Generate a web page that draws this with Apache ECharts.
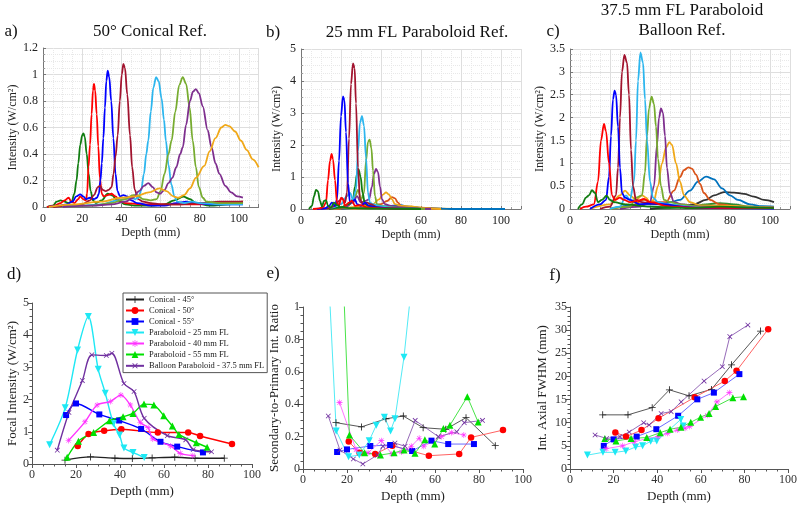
<!DOCTYPE html>
<html><head><meta charset="utf-8">
<script src="https://cdn.jsdelivr.net/npm/echarts@6/dist/echarts.min.js"></script>
<style>html,body{margin:0;padding:0;background:#fff}#c{width:800px;height:507px}</style>
</head><body><div id="c"></div>
<script>
// ---------- Panel a: 50 deg conical reflector, intensity vs depth ----------
const a_dkgreen = [[2,0],[5,0.01],[7,0.04],[9,0.05],[11,0.04],[13,0.03],[14.6,0.04],[16,0.1],[17.1,0.2],[18,0.33],[19,0.47],[20,0.54],[20.6,0.556],[21.3,0.53],[22.3,0.4],[23.3,0.25],[24.3,0.12],[25.5,0.05],[27,0.03],[30,0.05],[33,0.1],[35,0.09],[38,0.05],[42,0.02],[48,0.01],[55,0.01],[62,0.02],[67,0.05],[71.6,0.078],[75,0.06],[78,0.03],[85,0.01],[95,0.02],[102,0.04]];
const a_red = [[2,0],[6,0.01],[9,0.03],[11,0.05],[13,0.07],[14.5,0.04],[16,0.03],[18,0.06],[19,0.08],[20.5,0.06],[21.9,0.05],[22.5,0.1],[23.2,0.3],[24,0.47],[24.8,0.7],[25.5,0.88],[26,0.93],[26.6,0.88],[27.4,0.7],[28.2,0.46],[29,0.22],[30,0.1],[31,0.08],[33,0.09],[35,0.1],[37,0.08],[39,0.05],[42,0.03],[50,0.02],[60,0.02],[70,0.02],[80,0.02],[90,0.03],[102,0.04]];
const a_blue = [[3,0],[8,0.01],[12,0.02],[15,0.04],[17,0.08],[19,0.095],[20.5,0.08],[22,0.06],[24,0.07],[26,0.06],[27.5,0.07],[28.5,0.1],[29.3,0.2],[30,0.33],[30.8,0.52],[31.6,0.75],[32.3,0.95],[33,1.03],[33.8,0.98],[34.8,0.8],[35.9,0.52],[37,0.25],[38,0.12],[39.3,0.08],[41,0.09],[43,0.08],[45,0.05],[48,0.03],[55,0.01],[62,0.01],[68,0.03],[73.3,0.04],[78,0.03],[85,0.02],[102,0.02]];
const a_dkred = [[5,0],[15,0.01],[20,0.02],[24,0.05],[26,0.09],[28,0.15],[29.1,0.16],[30.5,0.13],[32,0.12],[33.5,0.13],[35,0.15],[36,0.25],[37,0.38],[38.1,0.54],[39.2,0.8],[40.2,1.0],[41,1.08],[41.8,1.05],[43,0.85],[44.4,0.54],[45.5,0.3],[46.8,0.13],[48.6,0.06],[51,0.04],[55,0.03],[60,0.02],[70,0.02],[80,0.03],[90,0.04],[102,0.04]];
const a_ltblue = [[10,0],[20,0.01],[30,0.02],[38,0.05],[42,0.06],[45,0.07],[47,0.06],[48.6,0.07],[50,0.12],[51.5,0.25],[52.7,0.4],[53.7,0.5],[55,0.72],[56.3,0.9],[57.7,0.98],[59,0.95],[60.5,0.82],[61.7,0.66],[62.7,0.5],[64,0.32],[65.5,0.17],[67,0.08],[68.5,0.04],[72,0.03],[76,0.04],[80,0.03],[90,0.02],[102,0.02]];
const a_ygreen = [[10,0],[25,0.01],[35,0.03],[42,0.06],[46,0.09],[48,0.09],[51,0.06],[55,0.05],[58,0.06],[60,0.12],[62,0.25],[64,0.4],[65.6,0.5],[67.5,0.72],[69.5,0.92],[71.3,0.98],[73,0.93],[74.8,0.75],[76.4,0.5],[78,0.3],[79.5,0.15],[81.5,0.07],[83.5,0.04],[90,0.03],[102,0.03]];
const a_purple = [[10,0],[25,0.01],[35,0.02],[42,0.04],[46,0.07],[49,0.12],[51.5,0.16],[53.7,0.18],[56,0.15],[58,0.11],[59.7,0.1],[62,0.13],[64,0.18],[66,0.22],[68,0.3],[70,0.4],[71.3,0.45],[73,0.62],[75,0.8],[76.5,0.87],[78,0.89],[79.5,0.86],[81.5,0.76],[84,0.58],[86,0.45],[88,0.33],[90,0.25],[93,0.16],[96,0.11],[99,0.08],[102,0.07]];
const a_orange = [[3,0],[15,0.02],[30,0.04],[40,0.07],[47,0.08],[54,0.11],[59.4,0.14],[63,0.12],[66.5,0.08],[69,0.07],[72,0.09],[75,0.14],[78,0.22],[82.3,0.31],[85,0.42],[88,0.52],[91,0.6],[93,0.62],[95,0.61],[98,0.57],[101,0.5],[104,0.43],[107,0.36],[110,0.3]];

// ---------- Panel b: 25 mm FL paraboloid ----------
const b_dkgreen = [[4,0],[5.5,0.1],[6.5,0.4],[7.5,0.6],[8.5,0.55],[9.5,0.25],[10.5,0.08],[11.5,0.25],[12.5,0.28],[13.5,0.1],[15,0.05],[16.5,0.2],[18,0.12],[20,0.05],[24,0.03],[30,0.02],[40,0.01],[60,0]];
const b_red = [[6,0],[9,0.02],[11,0.05],[12.5,0.2],[13.5,0.9],[14.5,1.5],[15.3,1.72],[16,1.55],[17,0.9],[18,0.2],[19,0.1],[20,0.35],[21,0.3],[22,0.1],[24,0.2],[25.5,0.25],[27,0.1],[30,0.12],[33,0.05],[40,0.02],[50,0.01],[60,0]];
const b_blue = [[8,0],[12,0.02],[14,0.1],[15.5,0.2],[17,0.1],[18,0.3],[19,1.5],[20,2.9],[21,3.52],[21.7,3.4],[22.5,2.4],[23.5,0.8],[24.5,0.2],[26,0.25],[27,0.3],[28,0.15],[30,0.1],[32,0.2],[34,0.1],[38,0.05],[45,0.02],[60,0]];
const b_dkred = [[10,0],[14,0.03],[17,0.1],[19,0.25],[20.5,0.35],[22,0.2],[23,0.5],[24,2.2],[25,3.9],[26,4.55],[26.8,4.4],[27.5,3.3],[28.5,1.3],[29.5,0.3],[31,0.15],[33,0.2],[35,0.15],[38,0.05],[45,0.02],[60,0]];
const b_ltblue = [[10,0],[16,0.05],[20,0.15],[23,0.4],[24.5,0.5],[26,0.3],[27.5,0.6],[28.5,1.8],[29.5,2.7],[30.5,2.9],[31.5,2.6],[32.5,1.6],[33.5,0.5],[34.5,0.2],[36,0.15],[39,0.1],[44,0.05],[52,0.02],[60,0]];
const b_dkgreen2 = [[14,0],[20,0.05],[24,0.15],[26,0.3],[27,0.7],[28,1.1],[28.8,1.24],[29.8,1.0],[30.8,0.5],[32,0.15],[34,0.1],[38,0.05],[45,0.02],[60,0]];
const b_ygreen = [[14,0],[20,0.05],[25,0.2],[27,0.4],[28.5,0.6],[30,0.3],[31.5,0.5],[32.5,1.5],[33.5,2.1],[34.3,2.17],[35.2,1.9],[36,1.2],[37,0.4],[38,0.15],[40,0.1],[45,0.05],[55,0.02],[62,0]];
const b_purple = [[15,0],[22,0.05],[26,0.2],[28,0.4],[30,0.2],[32,0.25],[34,0.3],[35.5,0.7],[36.5,1.1],[37.5,1.25],[38.5,1.15],[39.5,0.7],[40.5,0.3],[42,0.15],[45,0.1],[50,0.05],[58,0.02],[65,0]];
const b_orange = [[15,0],[25,0.05],[32,0.1],[36,0.15],[39,0.3],[41,0.45],[42.5,0.52],[44,0.45],[45.5,0.3],[47,0.15],[50,0.1],[55,0.08],[60,0.04],[65,0.01],[70,0]];
const b_orangered = [[18,0],[28,0.05],[35,0.1],[40,0.15],[43,0.25],[45.5,0.37],[47,0.33],[48.5,0.2],[50,0.1],[54,0.06],[60,0.03],[70,0]];
const b_steel = [[20,0],[35,0.05],[45,0.1],[50,0.12],[53,0.08],[58,0.04],[65,0.02],[75,0],[102,0]];
const b_gold = [[20,0],[40,0.03],[50,0.06],[55,0.07],[60,0.04],[70,0.01],[85,0],[102,0]];

// ---------- Panel c: 37.5 mm FL paraboloid balloon ----------
const c_dkgreen = [[4,0],[6,0.1],[8,0.25],[9.5,0.3],[11,0.41],[12.5,0.35],[14,0.15],[16,0.2],[18.3,0.29],[20,0.2],[22,0.15],[28,0.1],[40,0.05],[60,0.02],[75,0.05],[90,0.03],[102,0.02]];
const c_red = [[5,0],[8,0.05],[12,0.1],[14,0.6],[15.5,1.5],[17,1.86],[18,1.7],[19.5,1.0],[21,0.3],[22.5,0.2],[25,0.25],[27,0.2],[30,0.15],[34,0.18],[37,0.22],[40,0.15],[50,0.05],[60,0.03],[102,0.02]];
const c_blue = [[10,0],[15,0.1],[18,0.2],[19.5,0.7],[20.5,1.6],[21.5,2.4],[22.3,2.59],[23,2.5],[24,1.8],[25,0.9],[26,0.35],[27.5,0.25],[30,0.2],[35,0.1],[40,0.12],[48,0.1],[55,0.05],[65,0.02],[102,0.01]];
const c_dkred = [[15,0],[20,0.05],[23,0.3],[24,0.9],[25,2.0],[26,3.0],[27.2,3.37],[28.5,3.2],[29.5,2.5],[30.5,1.3],[31.5,0.5],[33,0.2],[36,0.15],[40,0.12],[50,0.08],[60,0.03],[102,0.02]];
const c_ltblue = [[20,0],[25,0.05],[28,0.3],[30,0.2],[32,0.6],[33,1.5],[34,2.8],[35.2,3.42],[36.5,3.2],[37.5,2.4],[38.5,1.5],[40,0.6],[41.5,0.25],[44,0.15],[50,0.1],[60,0.05],[70,0.03],[102,0.02]];
const c_ygreen = [[20,0],[30,0.05],[33,0.25],[36,0.3],[37.5,0.8],[38.5,1.6],[39.5,2.2],[40.8,2.46],[42,2.3],[43,1.8],[44,1.1],[45.5,0.5],[47,0.2],[50,0.15],[55,0.1],[65,0.05],[102,0.03]];
const c_purple = [[25,0],[35,0.05],[40,0.15],[42,0.5],[43.5,1.4],[44.5,2.0],[45.5,2.2],[46.5,2.1],[47.5,1.6],[48.5,0.9],[50,0.35],[52,0.15],[56,0.1],[65,0.05],[102,0.03]];
const c_orange = [[10,0],[20,0.1],[25,0.3],[27.5,0.4],[30,0.3],[33,0.2],[36,0.3],[38,0.25],[40,0.15],[42,0.2],[44,0.5],[46,1.0],[48,1.35],[49.7,1.46],[51,1.4],[53,1.0],[55,0.6],[57,0.3],[60,0.15],[65,0.08],[102,0.03]];
const c_orangered = [[20,0],[30,0.05],[37,0.2],[40,0.15],[48,0.15],[52,0.4],[55,0.7],[57,0.85],[59.2,0.91],[61,0.88],[63,0.75],[65,0.55],[67,0.35],[70,0.2],[75,0.1],[85,0.05],[102,0.03]];
const c_steel = [[20,0],[35,0.1],[45,0.1],[50,0.15],[55,0.2],[60,0.4],[64,0.6],[68,0.71],[72,0.65],[76,0.45],[80,0.3],[84,0.2],[90,0.1],[96,0.06],[102,0.05]];
const c_black = [[40,0],[55,0.05],[62,0.1],[68,0.2],[72,0.3],[77,0.37],[82,0.36],[87,0.33],[92,0.27],[97,0.2],[102,0.15]];
const c_green = [[40,0],[50,0.02],[60,0.05],[68,0.1],[75,0.13],[82,0.1],[90,0.05],[102,0.03]];

// ---------- Panels d, e, f: summary metrics vs depth ----------
const con45Depth = [15, 26.6, 37.7, 45.6, 54.6, 64.9, 74.1, 87.4];
const con45Focal = [0.12, 0.22, 0.18, 0.17, 0.19, 0.21, 0.18, 0.18];
const con45Ratio = [0.286, 0.26, 0.31, 0.327, 0.255, 0.245, 0.317, 0.144];
const con45Fwhm = [11.7, 11.7, 13.25, 17.1, 15.8, 17.2, 22.5, 29.8];

const con50Depth = [20.8, 25.7, 32.8, 40.6, 57.2, 71.0, 76.4, 90.9];
const con50Focal = [0.56, 0.93, 1.03, 1.08, 0.98, 0.98, 0.87, 0.62];
const con50Ratio = [0.169, 0.1, 0.093, 0.144, 0.082, 0.093, 0.195, 0.24];
const con50Fwhm = [7.9, 7.0, 8.4, 10.95, 15.5, 19.0, 21.2, 30.2];

const con55Depth = [15.5, 20.0, 30.6, 39.6, 49.6, 58.4, 66.0, 77.7];
const con55Focal = [1.52, 1.88, 1.54, 1.35, 1.09, 0.69, 0.54, 0.36];
const con55Ratio = [0.105, 0.121, 0.142, 0.148, 0.111, 0.175, 0.154, 0.154];
const con55Fwhm = [5.0, 6.4, 7.0, 8.6, 11.5, 15.05, 16.5, 20.5];

const par25Depth = [8, 15.1, 20.7, 25.6, 30.1, 33.3, 37, 39.8, 41.8, 45.9, 51];
const par25Focal = [0.6, 1.75, 3.54, 4.58, 2.94, 2.2, 1.25, 0.9, 0.5, 0.36, 0.2];
const par25Ratio = [2.2, 0.235, 0.076, 0.086, 0.175, 0.27, 0.32, 0.235, 0.31, 0.69, 1.35];
const par25FwhmDepth = [8, 15.1, 20.7, 25.6, 30.1, 33.3, 37, 39.8, 50.8, 51.9];
const par25Fwhm = [3.0, 3.6, 3.6, 3.9, 4.75, 5.0, 6.0, 6.05, 10.7, 9.3];

const par40Depth = [16.6, 24.1, 29.6, 35.6, 40.4, 44.7, 49.2, 52.8, 54.9, 63, 67.4, 73.1];
const par40Focal = [0.73, 1.31, 1.83, 1.94, 2.14, 1.83, 1.29, 1.13, 0.78, 0.56, 0.33, 0.26];
const par40Ratio = [0.41, 0.12, 0.1, 0.175, 0.093, 0.105, 0.14, 0.19, 0.14, 0.2, 0.225, 0.21];
const par40Fwhm = [4.4, 5.0, 5.9, 6.6, 7.0, 7.7, 8.4, 8.8, 9.2, 11.6, 14.5, 16.5];

const par55Depth = [16, 21.1, 28, 35.2, 41.4, 45.9, 50.9, 55.4, 59.9, 63.8, 66.8, 74.7, 79.6];
const par55Focal = [0.21, 0.71, 0.98, 1.34, 1.47, 1.57, 1.86, 1.83, 1.5, 1.18, 0.92, 0.66, 0.52];
const par55Ratio = [1.97, 0.21, 0.1, 0.086, 0.1, 0.117, 0.097, 0.18, 0.155, 0.25, 0.27, 0.446, 0.29];
const par55Fwhm = [6.6, 6.05, 6.6, 6.8, 7.85, 8.6, 9.0, 10.1, 11.2, 12.0, 13.5, 15.4, 15.6];

const balDepth = [11.5, 16.8, 22.9, 27.2, 33.8, 36.3, 41.8, 46.4, 51, 61.5, 69.9, 73.3, 81.6];
const balFocal = [0.43, 1.6, 2.59, 3.39, 3.37, 3.44, 2.5, 2.25, 1.42, 0.88, 0.75, 0.45, 0.38];
const balRatio = [0.327, 0.117, 0.062, 0.031, 0.086, 0.14, 0.16, 0.14, 0.3, 0.2, 0.23, 0.286, 0.3];
const balFwhm = [7.35, 6.6, 7.0, 8.0, 10.0, 9.5, 12.0, 12.4, 14.5, 19.0, 22.1, 28.6, 31.1];

const legendNames = ['Conical - 45°','Conical - 50°','Conical - 55°','Paraboloid - 25 mm FL','Paraboloid - 40 mm FL','Paraboloid - 55 mm FL','Balloon Paraboloid - 37.5 mm FL'];

// ---------- build ----------
const F = 'Liberation Serif';
const COL = {dkgreen:'#107c10', red:'#ff0000', blue:'#0000ff', dkred:'#a2142f', ltblue:'#2db6ee', ygreen:'#77ac30', purple:'#7e2f8e', orange:'#f0a818', orangered:'#d95319', steel:'#0072bd', black:'#333333', green:'#2e8b2e'};
const zip = (x, y) => x.map((v, i) => [v, y[i]]);

const grids = [
  {left:43, top:48, width:215.6, height:159},
  {left:301, top:49, width:220, height:160},
  {left:570, top:49, width:220, height:160},
  {left:32, top:303, width:220, height:161},
  {left:303, top:307, width:220, height:162},
  {left:570, top:307, width:219, height:162}
];

function topX(gi){
  return {gridIndex:gi, type:'value', min:0, max:110, interval:20,
    name:'Depth (mm)', nameLocation:'middle', nameGap:20,
    nameTextStyle:{fontFamily:F, fontSize:12, color:'#222'},
    axisLine:{lineStyle:{color:'#777'}},
    axisTick:{inside:true, length:3, lineStyle:{color:'#777'}},
    minorTick:{show:true, splitNumber:4, length:2, lineStyle:{color:'#999'}},
    splitLine:{show:true, lineStyle:{color:'#dedede'}},
    minorSplitLine:{show:true, lineStyle:{color:'#e8e8e8', type:'dotted'}},
    axisLabel:{fontFamily:F, fontSize:12, color:'#222', showMaxLabel:false, margin:6}};
}
function topY(gi, max, interval, gap){
  return {gridIndex:gi, type:'value', min:0, max:max, interval:interval,
    name:'Intensity (W/cm²)', nameLocation:'middle', nameGap:gap,
    nameTextStyle:{fontFamily:F, fontSize:12, color:'#222'},
    axisLine:{show:true, lineStyle:{color:'#777'}},
    axisTick:{show:true, inside:true, length:3, lineStyle:{color:'#777'}},
    minorTick:{show:true, splitNumber:4, length:2, lineStyle:{color:'#999'}},
    splitLine:{show:true, lineStyle:{color:'#dedede'}},
    minorSplitLine:{show:true, lineStyle:{color:'#e8e8e8', type:'dotted'}},
    axisLabel:{fontFamily:F, fontSize:12, color:'#222', margin:5}};
}
function botX(gi){
  return {gridIndex:gi, type:'value', min:0, max:100, interval:20,
    name:'Depth (mm)', nameLocation:'middle', nameGap:21,
    nameTextStyle:{fontFamily:F, fontSize:13, color:'#222'},
    axisLine:{lineStyle:{color:'#555'}},
    axisTick:{length:4, lineStyle:{color:'#555'}},
    minorTick:{show:true, splitNumber:4, length:2.5, lineStyle:{color:'#555'}},
    splitLine:{show:false},
    axisLabel:{fontFamily:F, fontSize:12, color:'#333', margin:5}};
}
function botY(gi, max, interval, minor, name, gap){
  return {gridIndex:gi, type:'value', min:0, max:max, interval:interval,
    name:name, nameLocation:'middle', nameGap:gap,
    nameTextStyle:{fontFamily:F, fontSize:13, color:'#222'},
    axisLine:{show:true, lineStyle:{color:'#555'}},
    axisTick:{show:true, length:4, lineStyle:{color:'#555'}},
    minorTick:{show:true, splitNumber:minor, length:2.5, lineStyle:{color:'#555'}},
    splitLine:{show:false},
    axisLabel:{fontFamily:F, fontSize:12, color:'#333', margin:3}};
}

const series = [];
function curve(gi, data, color){
  series.push({type:'line', xAxisIndex:gi, yAxisIndex:gi, data:data, showSymbol:false,
    smooth:0.35, smoothMonotone:'x', lineStyle:{color:color, width:1.8}, itemStyle:{color:color},
    silent:true, z:2});
}
[[a_dkgreen,'dkgreen'],[a_red,'red'],[a_blue,'blue'],[a_dkred,'dkred'],[a_ltblue,'ltblue'],[a_ygreen,'ygreen'],[a_purple,'purple'],[a_orange,'orange']]
  .forEach(p => curve(0, p[0], COL[p[1]]));
[[b_gold,'orange'],[b_steel,'steel'],[b_orangered,'orangered'],[b_orange,'orange'],[b_purple,'purple'],[b_ygreen,'ygreen'],[b_dkgreen2,'dkgreen'],[b_ltblue,'ltblue'],[b_dkred,'dkred'],[b_blue,'blue'],[b_red,'red'],[b_dkgreen,'dkgreen']]
  .forEach(p => curve(1, p[0], COL[p[1]]));
[[c_green,'green'],[c_black,'black'],[c_steel,'steel'],[c_orangered,'orangered'],[c_orange,'orange'],[c_purple,'purple'],[c_ygreen,'ygreen'],[c_ltblue,'ltblue'],[c_dkred,'dkred'],[c_blue,'blue'],[c_red,'red'],[c_dkgreen,'dkgreen']]
  .forEach(p => curve(2, p[0], COL[p[1]]));

const PLUS = 'path://M4.4,0H5.6V4.4H10V5.6H5.6V10H4.4V5.6H0V4.4H4.4Z';
const AST = 'path://M4.5,0h1v3.8l2.7,-2.7l0.7,0.7l-2.7,2.7H10v1H6.2l2.7,2.7l-0.7,0.7l-2.7,-2.7V10h-1V6.2l-2.7,2.7l-0.7,-0.7l2.7,-2.7H0v-1h3.8L1.1,1.8l0.7,-0.7l2.7,2.7Z';
const styles = [
  {name:legendNames[0], color:'#222222', light:'#444444', symbol:PLUS, size:7, rot:0},
  {name:legendNames[1], color:'#ff0000', light:'#ff5050', symbol:'circle', size:6.5, rot:0},
  {name:legendNames[2], color:'#0000ff', light:'#5a5aff', symbol:'rect', size:6, rot:0},
  {name:legendNames[3], color:'#1ee8f4', light:'#3ee8f4', symbol:'triangle', size:7, rot:180},
  {name:legendNames[4], color:'#ff33ff', light:'#ff66ff', symbol:AST, size:6, rot:0},
  {name:legendNames[5], color:'#00e000', light:'#33e033', symbol:'triangle', size:7, rot:0},
  {name:legendNames[6], color:'#7030a0', light:'#8a5ab0', symbol:PLUS, size:6.5, rot:45}
];
const dSets = [
  [con45Depth, con45Focal, con45Ratio, con45Depth, con45Fwhm],
  [con50Depth, con50Focal, con50Ratio, con50Depth, con50Fwhm],
  [con55Depth, con55Focal, con55Ratio, con55Depth, con55Fwhm],
  [par25Depth, par25Focal, par25Ratio, par25FwhmDepth, par25Fwhm],
  [par40Depth, par40Focal, par40Ratio, par40Depth, par40Fwhm],
  [par55Depth, par55Focal, par55Ratio, par55Depth, par55Fwhm],
  [balDepth, balFocal, balRatio, balDepth, balFwhm]
];
function metric(gi, st, data, width, lc, smooth){
  series.push({type:'line', name:st.name, xAxisIndex:gi, yAxisIndex:gi, data:data,
    symbol:st.symbol, symbolSize:st.size, symbolRotate:st.rot, smooth:smooth,
    lineStyle:{color:lc, width:width}, itemStyle:{color:st.color}, clip:true, z:3});
}
dSets.forEach((s, i) => {
  const st = styles[i];
  metric(3, st, zip(s[0], s[1]), 1.4, st.color, 0.3);
  metric(4, st, zip(s[0], s[2]), 0.9, st.light, false);
  metric(5, st, zip(s[3], s[4]), 0.9, st.light, false);
});

const txt = (x, y, t, size) => ({type:'text', x:x, y:y, style:{text:t, fontFamily:F, fontSize:size, fill:'#111', textAlign:'center', textVerticalAlign:'middle'}});

const option = {
  backgroundColor:'#fff',
  animation:false,
  grid:grids,
  xAxis:[topX(0), topX(1), topX(2), botX(3), botX(4), botX(5)],
  yAxis:[
    topY(0, 1.2, 0.2, 24), topY(1, 5, 1, 18), topY(2, 3.5, 0.5, 24),
    botY(3, 5, 1, 5, 'Focal Intensity (W/cm²)', 11),
    botY(4, 1, 0.2, 4, 'Secondary-to-Primary Int. Ratio', 21),
    botY(5, 35, 5, 5, 'Int. Axial FWHM (mm)', 21)
  ],
  legend:{data:legendNames, orient:'vertical', left:123, top:293, padding:[2,3,2,2],
    itemWidth:18, itemHeight:8.5, itemGap:2, backgroundColor:'#fff',
    borderColor:'#555', borderWidth:1, borderRadius:0,
    textStyle:{fontFamily:F, fontSize:8.5, lineHeight:8.5, color:'#222'}},
  graphic:[
    txt(11, 32, 'a)', 17), txt(150, 32, '50° Conical Ref.', 17),
    txt(273, 33, 'b)', 17), txt(417, 33, '25 mm FL Paraboloid Ref.', 17),
    txt(553, 32, 'c)', 17), txt(682, 11, '37.5 mm FL Paraboloid', 17), txt(682, 31, 'Balloon Ref.', 17),
    txt(14, 275, 'd)', 17), txt(273, 274, 'e)', 17), txt(555, 276, 'f)', 17)
  ],
  series:series
};
const chart = echarts.init(document.getElementById('c'), null, {renderer:'canvas'});
chart.setOption(option);
</script></body></html>
